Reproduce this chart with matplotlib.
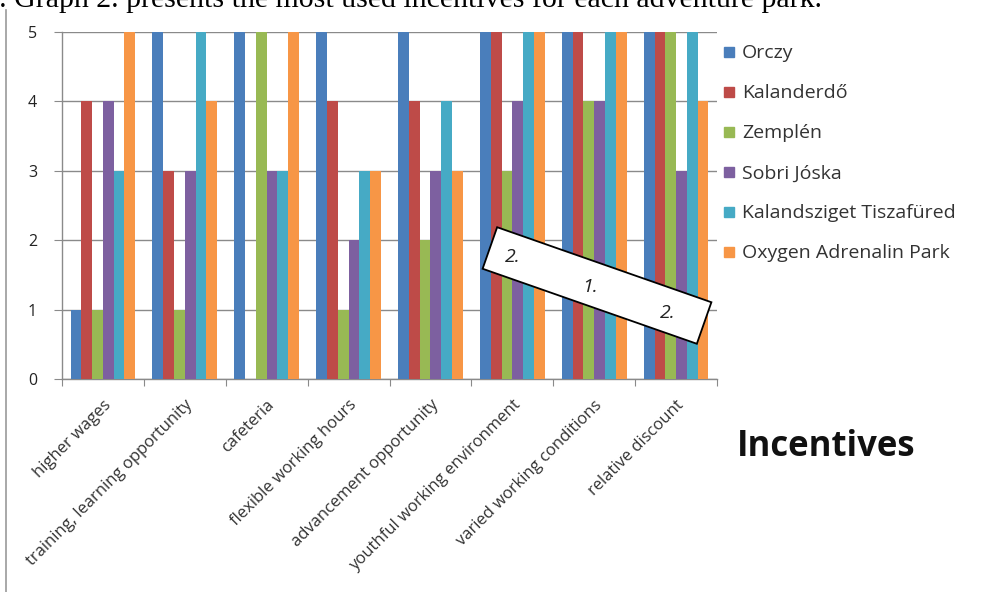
import matplotlib
matplotlib.use("Agg")
import matplotlib.pyplot as plt
import numpy as np
from matplotlib.patches import Rectangle
from matplotlib.transforms import Affine2D
from matplotlib.lines import Line2D

categories = ["higher wages", "training, learning opportunity", "cafeteria",
              "flexible working hours", "advancement opportunity",
              "youthful working environment", "varied working conditions",
              "relative discount"]
series_names = ["Orczy", "Kalanderdő", "Zemplén", "Sobri Jóska",
                "Kalandsziget Tiszafüred", "Oxygen Adrenalin Park"]
orczy = [1, 5, 5, 5, 5, 5, 5, 5]
kalanderdo = [4, 3, 0, 4, 4, 5, 5, 5]
zemplen = [1, 1, 5, 1, 2, 3, 4, 5]
sobri = [4, 3, 3, 2, 3, 4, 4, 3]
kalandsziget = [3, 5, 3, 3, 4, 5, 5, 5]
oxygen = [5, 4, 5, 3, 3, 5, 5, 4]
yticks = [0, 1, 2, 3, 4, 5]
box_labels = ["2.", "1.", "2."]

colors = ["#4A7EBB", "#BE4B48", "#98B954", "#7D60A0", "#46AAC5", "#F79646"]
data = [orczy, kalanderdo, zemplen, sobri, kalandsziget, oxygen]

W, H = 1004, 592
fig = plt.figure(figsize=(W / 100, H / 100), dpi=100)
fig.patch.set_facecolor("white")

ax_l, ax_r, ax_t, ax_b = 62, 717, 32, 379
ax = fig.add_axes([ax_l / W, 1 - ax_b / H, (ax_r - ax_l) / W, (ax_b - ax_t) / H])

n = len(series_names)
x = np.arange(len(categories))
bw = 1.0 / (n + 1.6)
for i, (vals, c) in enumerate(zip(data, colors)):
    ax.bar(x - n * bw / 2 + (i + 0.5) * bw, vals, width=bw, color=c,
           label=series_names[i], zorder=3)

ax.set_xlim(-0.5, len(categories) - 0.5)
ax.set_ylim(0, 5)
ax.set_yticks(yticks)
ax.yaxis.grid(True, color="#8a8a8a", linewidth=1.0, zorder=0)
ax.set_axisbelow(True)
for s in ["top", "right"]:
    ax.spines[s].set_visible(False)
for s in ["left", "bottom"]:
    ax.spines[s].set_color("#8a8a8a")
    ax.spines[s].set_linewidth(1.0)
ax.tick_params(axis="y", length=6, color="#8a8a8a", labelsize=11.5, pad=12,
               labelcolor="#222222")
ax.set_yticklabels([str(v) for v in yticks], fontfamily="Open Sans")
ax.set_xticks(np.arange(len(categories) + 1) - 0.5, minor=False)
ax.set_xticklabels([])
ax.tick_params(axis="x", length=5, color="#8a8a8a")
ax.set_xticks(x, minor=True)
ax.set_xticklabels(categories, minor=True, rotation=45, ha="right",
                   va="top", rotation_mode="anchor", fontsize=12,
                   fontfamily="Open Sans", color="#333333")
ax.tick_params(axis="x", which="minor", length=0, pad=13)

# legend
handles = [Line2D([0], [0], marker="s", linestyle="none", markersize=7.5,
                  markerfacecolor=c, markeredgecolor=c) for c in colors]
leg = fig.legend(handles, series_names, loc="upper left",
                 bbox_to_anchor=(706 / W, 1 - 27 / H), frameon=False,
                 handlelength=0.6, handletextpad=0.35, labelspacing=1.13,
                 prop={"family": "Open Sans", "size": 14})
for t in leg.get_texts():
    t.set_color("#333333")

# Axis title
fig.text(737 / W, 1 - 447 / H, "Incentives", fontsize=25, fontweight="bold",
         fontfamily="Open Sans", color="#111111", ha="left", va="center")

# Rotated annotation box
cx, cy = 597, H - 285.5
bw_px, bh_px = 227, 44
tr = Affine2D().rotate_deg_around(cx, cy, -19.3).scale(1 / W, 1 / H) + fig.transFigure
rect = Rectangle((cx - bw_px / 2, cy - bh_px / 2), bw_px, bh_px,
                 facecolor="white", edgecolor="black", linewidth=1.3,
                 transform=tr, zorder=10)
fig.patches.append(rect)
for (px, py), lab in zip([(513, 257), (590, 287), (668, 313)], box_labels):
    fig.text(px / W, 1 - py / H, lab, fontsize=14, fontstyle="italic",
             fontfamily="Open Sans", color="#222222", ha="center",
             va="center", zorder=11)

# page border line on left
fig.add_artist(Line2D([6 / W, 6 / W], [0, 1 - 10 / H], transform=fig.transFigure,
                      color="#9a9a9a", linewidth=1.2))

# cut-off caption on top
fig.text(-14 / W, 1 - 7 / H, "e. Graph 2. presents the most used incentives for each adventure park.",
         fontsize=21.5, fontfamily="Liberation Serif", color="black",
         ha="left", va="baseline")

fig.savefig("out.png", dpi=100, facecolor="white")
